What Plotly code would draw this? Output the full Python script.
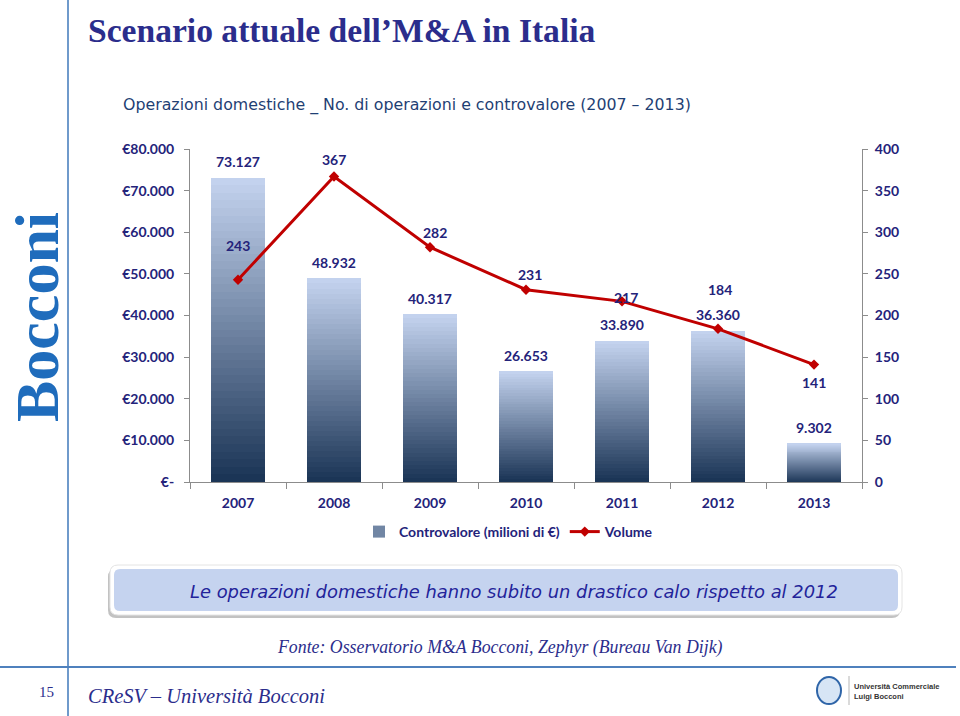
import plotly.graph_objects as go

# ---- data ----
years = ["2007", "2008", "2009", "2010", "2011", "2012", "2013"]
controvalore = [73127, 48932, 40317, 26653, 33890, 36360, 9302]
volume = [243, 367, 282, 231, 217, 184, 141]
left_tickvals = [0, 10000, 20000, 30000, 40000, 50000, 60000, 70000, 80000]
left_ticktext = ["€-", "€10.000", "€20.000", "€30.000", "€40.000", "€50.000", "€60.000", "€70.000", "€80.000"]
right_tickvals = [0, 50, 100, 150, 200, 250, 300, 350, 400]

# label offsets (pixels) for the volume labels
vol_dx = [0, 0, 5, 4, 4, 2, 0]
vol_dy = [34, 17, 15, 15, 4, 39, -18]

NAVY = "#24237a"
RED = "#c00000"
FONT = "Lato"

idx = list(range(len(years)))
bounds = [i - 0.5 for i in range(len(years) + 1)]


def fmt_it(v):
    return f"{v:,}".replace(",", ".")


def lerp(c1, c2, t):
    a = [int(c1[i:i + 2], 16) for i in (1, 3, 5)]
    b = [int(c2[i:i + 2], 16) for i in (1, 3, 5)]
    return "rgb(%d,%d,%d)" % tuple(round(a[i] + (b[i] - a[i]) * t) for i in range(3))


fig = go.Figure()

# gradient bars: each bar split into N stacked slices
N = 40
DARK, LIGHT = "#1b3556", "#c3d2ee"
for k in range(N):
    t = k / (N - 1)
    fig.add_trace(go.Bar(
        x=idx, y=[v / N for v in controvalore],
        marker=dict(color=lerp(DARK, LIGHT, t), line=dict(width=0)),
        width=0.57,
        name="Controvalore (milioni di €)",
        showlegend=(k == N // 2),
        legendgroup="bars",
        hoverinfo="skip",
        yaxis="y",
    ))

fig.add_trace(go.Scatter(
    x=idx, y=volume, yaxis="y2", mode="lines+markers",
    line=dict(color=RED, width=3),
    marker=dict(symbol="diamond", size=8, color=RED),
    name="Volume",
))

# bar value labels
for x, v in zip(idx, controvalore):
    fig.add_annotation(x=x, y=v, xref="x", yref="y", text=fmt_it(v),
                       showarrow=False, yshift=16,
                       font=dict(family=FONT, size=14, color=NAVY, weight="bold"))
# volume labels
for x, v, dx, dy in zip(idx, volume, vol_dx, vol_dy):
    fig.add_annotation(x=x, y=v, xref="x", yref="y2", text=str(v),
                       showarrow=False, xshift=dx, yshift=dy,
                       font=dict(family=FONT, size=14, color=NAVY, weight="bold"))

W, H = 960, 716


def px(x):
    return x / W


def py(y):
    return 1 - y / H


def rrect(x0, y0, x1, y1, r):
    """rounded rectangle path in paper coords from pixel box"""
    rx, ry = r / W, r / H
    X0, X1, Y0, Y1 = px(x0), px(x1), py(y1), py(y0)  # Y0 bottom, Y1 top
    return (f"M {X0+rx} {Y1} L {X1-rx} {Y1} Q {X1} {Y1} {X1} {Y1-ry} "
            f"L {X1} {Y0+ry} Q {X1} {Y0} {X1-rx} {Y0} L {X0+rx} {Y0} "
            f"Q {X0} {Y0} {X0} {Y0+ry} L {X0} {Y1-ry} Q {X0} {Y1} {X0+rx} {Y1} Z")


axis_col = "#8c8c8c"
tick_font = dict(family=FONT, size=14, color=NAVY, weight="bold")

fig.update_layout(
    width=W, height=H, autosize=False,
    margin=dict(l=0, r=0, t=0, b=0, pad=0, autoexpand=False),
    paper_bgcolor="white", plot_bgcolor="white",
    barmode="stack",
    showlegend=True,
    legend=dict(orientation="h", x=px(509), y=py(532), xanchor="center", yanchor="middle",
                font=tick_font, traceorder="normal", bgcolor="rgba(0,0,0,0)"),
    xaxis=dict(domain=[px(190), px(862)], range=[-0.5, len(years) - 0.5], automargin=False,
               tickmode="array", tickvals=idx, ticktext=years, ticks="",
               minor=dict(tickmode="array", tickvals=bounds, ticks="outside", ticklen=6,
                          tickcolor=axis_col, showgrid=False),
               showline=True, linecolor=axis_col, linewidth=1,
               tickfont=tick_font, ticklabelstandoff=8,
               showgrid=False, zeroline=False),
    yaxis=dict(domain=[py(482), py(149)], range=[0, 80000], automargin=False,
               tickmode="array", tickvals=left_tickvals, ticktext=left_ticktext,
               showline=True, linecolor=axis_col, linewidth=1,
               ticks="outside", ticklen=5, tickcolor=axis_col,
               tickfont=tick_font, ticklabelstandoff=7,
               showgrid=False, zeroline=False),
    yaxis2=dict(overlaying="y", side="right", range=[0, 400], automargin=False,
                tickmode="array", tickvals=right_tickvals,
                showline=True, linecolor=axis_col, linewidth=1,
                ticks="outside", ticklen=5, tickcolor=axis_col,
                tickfont=tick_font, ticklabelstandoff=4,
                showgrid=False, zeroline=False),
)

# ---- slide decorations ----
shapes = [
    dict(type="line", xref="paper", yref="paper", x0=px(68), x1=px(68), y0=0, y1=1,
         line=dict(color="#6f9acb", width=2)),
    dict(type="line", xref="paper", yref="paper", x0=0, x1=px(956), y0=py(667), y1=py(667),
         line=dict(color="#4f81bd", width=2)),
    # banner: shadow, white frame, blue fill
    dict(type="path", xref="paper", yref="paper", path=rrect(108, 569, 900, 618, 8),
         line=dict(width=0), fillcolor="#c2c2c2", layer="below"),
    dict(type="path", xref="paper", yref="paper", path=rrect(110, 565, 902, 615, 8),
         line=dict(color="#e4e4e4", width=1), fillcolor="#ffffff", layer="below"),
    dict(type="path", xref="paper", yref="paper", path=rrect(114, 569, 898, 611, 6),
         line=dict(width=0), fillcolor="#c5d3ef", layer="below"),
    # logo emblem
    dict(type="circle", xref="paper", yref="paper", x0=px(817), x1=px(841), y0=py(704), y1=py(677),
         line=dict(color="#2f65a8", width=2), fillcolor="#d7e5f5"),
    dict(type="line", xref="paper", yref="paper", x0=px(849), x1=px(849), y0=py(705), y1=py(676),
         line=dict(color="#b5b5b5", width=1)),
]
fig.update_layout(shapes=shapes)

ann = [
    dict(text="Scenario attuale dell’M&A in Italia", x=px(86), y=py(30), xanchor="left", yanchor="middle",
         font=dict(family="Liberation Serif", size=33.6, color="#2b2d8c", weight="bold")),
    dict(text="Operazioni domestiche _ No. di operazioni e controvalore (2007 – 2013)", x=px(121), y=py(105),
         xanchor="left", yanchor="middle",
         font=dict(family="DejaVu Sans", size=15.8, color="#1f3f74")),
    dict(text="Bocconi", x=px(37), y=py(317), xanchor="center", yanchor="middle", textangle=-90,
         font=dict(family="Liberation Serif", size=62, color="#1f6cbc", weight="bold")),
    dict(text="<i>Le operazioni domestiche hanno subito un drastico calo rispetto al 2012</i>", x=px(514), y=py(591),
         xanchor="center", yanchor="middle",
         font=dict(family="DejaVu Sans", size=17.9, color="#23239a")),
    dict(text="<i>Fonte: Osservatorio M&A Bocconi, Zephyr (Bureau Van Dijk)</i>", x=px(500), y=py(647),
         xanchor="center", yanchor="middle",
         font=dict(family="Liberation Serif", size=17.8, color="#2b2d8c")),
    dict(text="15", x=px(46), y=py(692), xanchor="center", yanchor="middle",
         font=dict(family="Liberation Serif", size=15, color="#2b2d8c")),
    dict(text="<i>CReSV – Università Bocconi</i>", x=px(86), y=py(696), xanchor="left", yanchor="middle",
         font=dict(family="Liberation Serif", size=20.5, color="#2b2d8c")),
    dict(text="Università Commerciale<br>Luigi Bocconi", x=px(852), y=py(691), xanchor="left", yanchor="middle",
         align="left", font=dict(family="Liberation Sans", size=7.5, color="#333333", weight="bold")),
]
for a in ann:
    fig.add_annotation(xref="paper", yref="paper", showarrow=False, **a)

fig.write_html(
    "out.html",
    config={"displayModeBar": False, "responsive": False},
    post_script=(
        "document.documentElement.style.margin='0';"
        "document.documentElement.style.overflow='hidden';"
        "document.body.style.margin='0';document.body.style.padding='0';"
        "document.body.style.overflow='hidden';"
        "var gd=document.getElementById('{plot_id}');"
        "gd.style.position='fixed';gd.style.top='0px';gd.style.left='0px';"
    ),
)
